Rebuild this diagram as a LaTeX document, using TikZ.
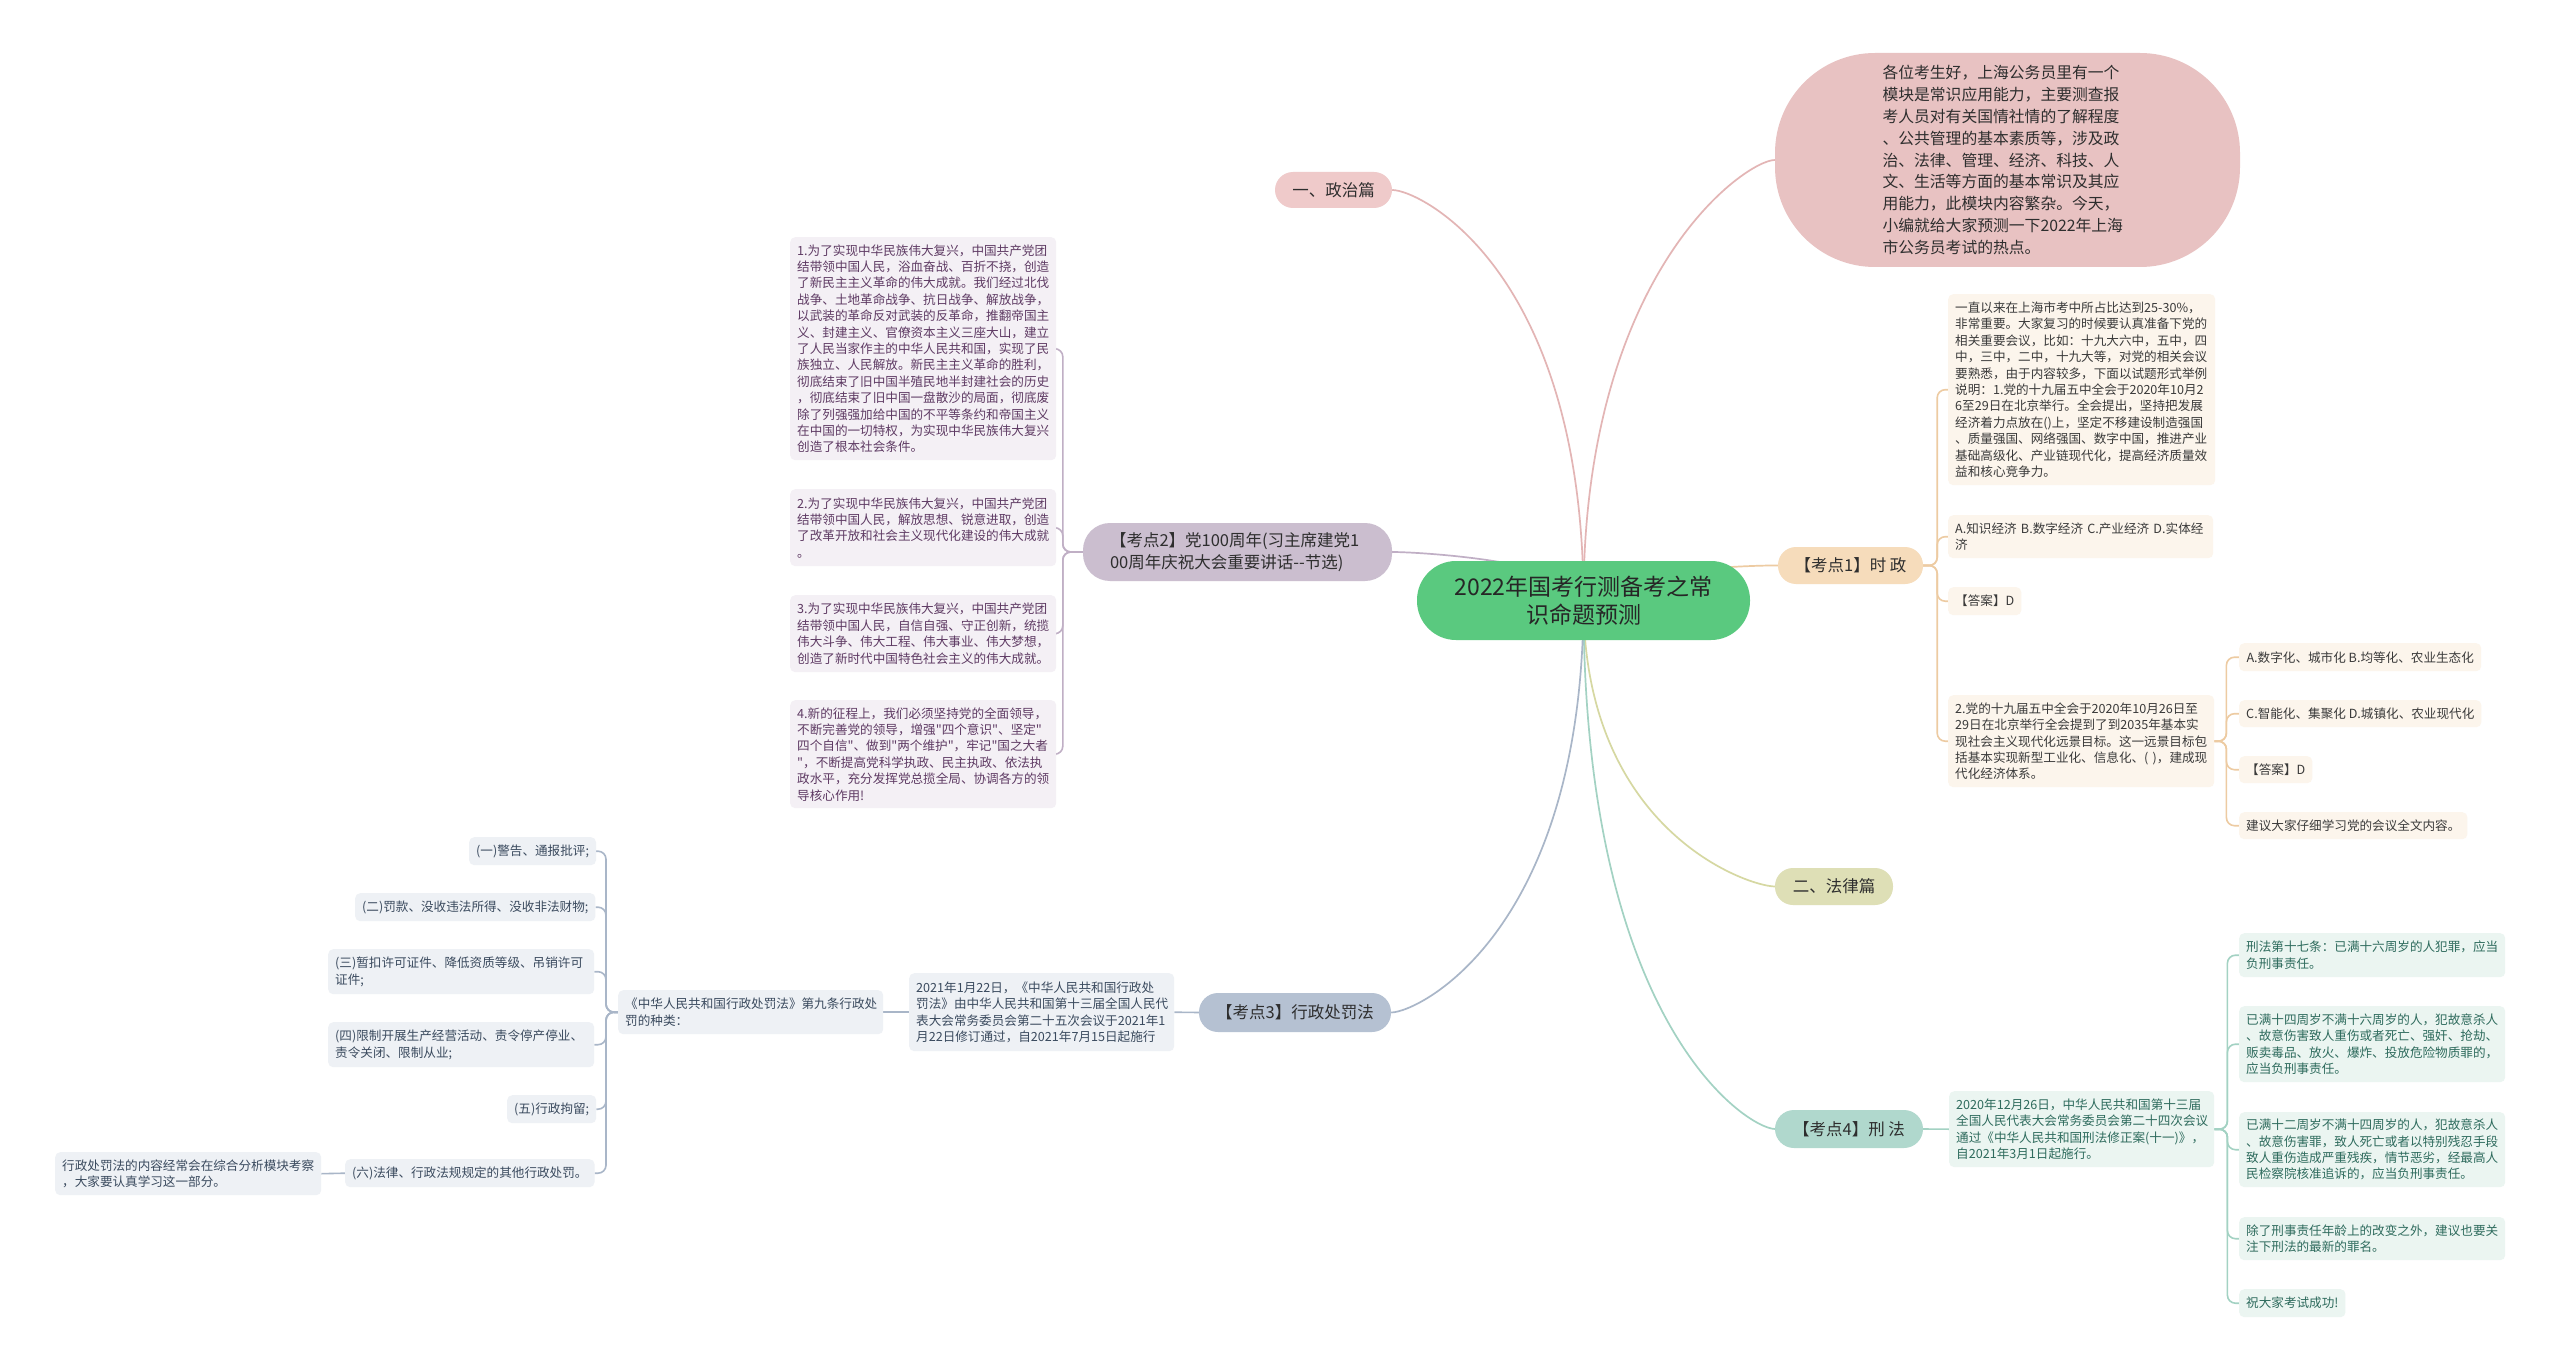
\documentclass[tikz,border=0pt]{standalone}
\usepackage{fontspec}
\setmainfont{Noto Sans CJK SC}[Ligatures=TeXOff]
\usetikzlibrary{backgrounds}
\definecolor{cgreen}{HTML}{5AC97F}
\definecolor{ppink}{HTML}{EFCACA}
\definecolor{ipink}{HTML}{E8C2C2}
\definecolor{kpeach}{HTML}{F6DCBB}
\definecolor{folive}{HTML}{DEDFB6}
\definecolor{kteal}{HTML}{B0D8CD}
\definecolor{kblue}{HTML}{B5C1D2}
\definecolor{kpurple}{HTML}{CBBECF}
\definecolor{lpink}{HTML}{E3B5B5}
\definecolor{lpeach}{HTML}{EDCBA2}
\definecolor{lolive}{HTML}{D6D8A2}
\definecolor{lteal}{HTML}{A3D2C3}
\definecolor{lblue}{HTML}{A9B6C8}
\definecolor{lpurple}{HTML}{C0AFC5}
\definecolor{bpeach}{HTML}{FCF5EC}
\definecolor{bpurple}{HTML}{F4F0F5}
\definecolor{bblue}{HTML}{EEF1F5}
\definecolor{bteal}{HTML}{EBF5F1}
\definecolor{tpeach}{HTML}{3A3A3A}
\definecolor{tpurple}{HTML}{5E3A63}
\definecolor{tblue}{HTML}{3A4A5E}
\definecolor{tteal}{HTML}{2E6B5D}
\definecolor{tmain}{HTML}{2E2E2E}
\newcommand\mybox[7]{%
 \pgfmathsetmacro\mbw{#5-#3}%
 \pgfmathsetmacro\mbh{#6-#4}%
 \pgfmathsetmacro\mbt{#5-#3-14}%
 \node[#1, minimum width=\mbw pt, minimum height=\mbh pt, text width=\mbt pt, anchor=north west] (#2) at (#3,#4) {#7};}
\newcommand\myboxc[7]{%
 \pgfmathsetmacro\mbw{#5-#3}%
 \pgfmathsetmacro\mbh{#6-#4}%
 \node[#1, minimum width=\mbw pt, minimum height=\mbh pt, align=center, anchor=north west] (#2) at (#3,#4) {#7};}
\tikzset{
 leaf/.style={rounded corners=5pt, inner xsep=7pt, inner ysep=4pt, align=left, font=\fontsize{12.6}{16.4}\selectfont},
 leafA/.style={leaf, fill=bpeach, text=tpeach},
 leafB/.style={leaf, fill=bpurple, text=tpurple},
 leafC/.style={leaf, fill=bblue, text=tblue},
 leafD/.style={leaf, fill=bteal, text=tteal},
 mainnode/.style={text=tmain, font=\fontsize{16.5}{21.7}\selectfont, inner sep=0pt},
 conn/.style={line width=1.7pt},
 sub/.style={line width=1.6pt, rounded corners=8pt},
}
\begin{document}
\begin{tikzpicture}[x=1pt,y=-1pt]
\useasboundingbox (0,0) rectangle (2560,1372);
% root
\node[fill=cgreen, rounded corners=39pt, minimum width=333pt, minimum height=79pt, align=center, text=black!85, font=\fontsize{23}{28}\selectfont] (root) at (1583.5,600.5) {2022年国考行测备考之常\\识命题预测};
% main branches
\node[mainnode, fill=ppink, rounded corners=18pt, minimum width=117pt, minimum height=36pt] (zz) at (1333.5,190) {一、政治篇};
\node[mainnode, fill=ipink, rounded corners=100pt, minimum width=465pt, minimum height=214pt, text width=250pt, align=left, font=\fontsize{15.8}{21.9}\selectfont] (intro) at (2007.5,160) {各位考生好，上海公务员里有一个\\模块是常识应用能力，主要测查报\\考人员对有关国情社情的了解程度\\、公共管理的基本素质等，涉及政\\治、法律、管理、经济、科技、人\\文、生活等方面的基本常识及其应\\用能力，此模块内容繁杂。今天，\\小编就给大家预测一下2022年上海\\市公务员考试的热点。};
\node[mainnode, fill=kpeach, rounded corners=18pt, minimum width=145pt, minimum height=37pt] (k1) at (1850.5,565.5) {【考点1】时 政};
\node[mainnode, fill=folive, rounded corners=18pt, minimum width=118pt, minimum height=37pt] (fl) at (1834,886.5) {二、法律篇};
\node[mainnode, fill=kteal, rounded corners=19pt, minimum width=148pt, minimum height=38pt] (k4) at (1849,1129) {【考点4】刑 法};
\node[mainnode, fill=kblue, rounded corners=19pt, minimum width=192pt, minimum height=39pt] (k3) at (1295,1012.5) {【考点3】行政处罚法};
\node[mainnode, fill=kpurple, rounded corners=27pt, minimum width=309pt, minimum height=58pt, text width=255pt, align=left] (k2) at (1237.5,552) {【考点2】党100周年(习主席建党1\\00周年庆祝大会重要讲话--节选)};
% kaodian 1 leaves
\mybox{leafA}{ka}{1948}{294}{2215}{485}{一直以来在上海市考中所占比达到25-30\%，\\非常重要。大家复习的时候要认真准备下党的\\相关重要会议，比如：十九大六中，五中，四\\中，三中，二中，十九大等，对党的相关会议\\要熟悉，由于内容较多，下面以试题形式举例\\说明：1.党的十九届五中全会于2020年10月2\\6至29日在北京举行。全会提出，坚持把发展\\经济着力点放在()上，坚定不移建设制造强国\\、质量强国、网络强国、数字中国，推进产业\\基础高级化、产业链现代化，提高经济质量效\\益和核心竞争力。}
\mybox{leafA}{kb}{1948}{515}{2213}{558}{A.知识经济 B.数字经济 C.产业经济 D.实体经\\济}
\myboxc{leafA}{kc}{1948}{587}{2021}{615}{【答案】D}
\mybox{leafA}{kd}{1948}{695}{2214}{787}{2.党的十九届五中全会于2020年10月26日至\\29日在北京举行全会提到了到2035年基本实\\现社会主义现代化远景目标。这一远景目标包\\括基本实现新型工业化、信息化、(~)，建成现\\代化经济体系。}
\myboxc{leafA}{ke}{2239}{643}{2481}{671}{A.数字化、城市化 B.均等化、农业生态化}
\myboxc{leafA}{kf}{2239}{700}{2481}{727}{C.智能化、集聚化 D.城镇化、农业现代化}
\myboxc{leafA}{kg}{2239}{756}{2311}{783}{【答案】D}
\myboxc{leafA}{kh}{2239}{812}{2467}{839}{建议大家仔细学习党的会议全文内容。}
% kaodian 4 leaves
\mybox{leafD}{xa}{1949}{1091}{2214}{1167}{2020年12月26日，中华人民共和国第十三届\\全国人民代表大会常务委员会第二十四次会议\\通过《中华人民共和国刑法修正案(十一)》，\\自2021年3月1日起施行。}
\mybox{leafD}{xb}{2239}{933}{2505}{977}{刑法第十七条：已满十六周岁的人犯罪，应当\\负刑事责任。}
\mybox{leafD}{xc}{2239}{1006}{2505}{1082}{已满十四周岁不满十六周岁的人，犯故意杀人\\、故意伤害致人重伤或者死亡、强奸、抢劫、\\贩卖毒品、放火、爆炸、投放危险物质罪的，\\应当负刑事责任。}
\mybox{leafD}{xd}{2239}{1112}{2505}{1187}{已满十二周岁不满十四周岁的人，犯故意杀人\\、故意伤害罪，致人死亡或者以特别残忍手段\\致人重伤造成严重残疾，情节恶劣，经最高人\\民检察院核准追诉的，应当负刑事责任。}
\mybox{leafD}{xe}{2239}{1217}{2505}{1260}{除了刑事责任年龄上的改变之外，建议也要关\\注下刑法的最新的罪名。}
\myboxc{leafD}{xf}{2239}{1289}{2343}{1317}{祝大家考试成功!}
% kaodian 2 leaves
\mybox{leafB}{pa}{790}{237}{1056}{460}{1.为了实现中华民族伟大复兴，中国共产党团\\结带领中国人民，浴血奋战、百折不挠，创造\\了新民主主义革命的伟大成就。我们经过北伐\\战争、土地革命战争、抗日战争、解放战争，\\以武装的革命反对武装的反革命，推翻帝国主\\义、封建主义、官僚资本主义三座大山，建立\\了人民当家作主的中华人民共和国，实现了民\\族独立、人民解放。新民主主义革命的胜利，\\彻底结束了旧中国半殖民地半封建社会的历史\\，彻底结束了旧中国一盘散沙的局面，彻底废\\除了列强强加给中国的不平等条约和帝国主义\\在中国的一切特权，为实现中华民族伟大复兴\\创造了根本社会条件。}
\mybox{leafB}{pb}{790}{489}{1056}{566}{2.为了实现中华民族伟大复兴，中国共产党团\\结带领中国人民，解放思想、锐意进取，创造\\了改革开放和社会主义现代化建设的伟大成就\\。}
\mybox{leafB}{pc}{790}{595}{1056}{672}{3.为了实现中华民族伟大复兴，中国共产党团\\结带领中国人民，自信自强、守正创新，统揽\\伟大斗争、伟大工程、伟大事业、伟大梦想，\\创造了新时代中国特色社会主义的伟大成就。}
\mybox{leafB}{pd}{790}{700}{1056}{808}{4.新的征程上，我们必须坚持党的全面领导，\\不断完善党的领导，增强"四个意识"、坚定"\\四个自信"、做到"两个维护"，牢记"国之大者\\"，不断提高党科学执政、民主执政、依法执\\政水平，充分发挥党总揽全局、协调各方的领\\导核心作用!}
% kaodian 3 leaves
\mybox{leafC}{ra}{909}{973}{1174}{1051}{2021年1月22日，《中华人民共和国行政处\\罚法》由中华人民共和国第十三届全国人民代\\表大会常务委员会第二十五次会议于2021年1\\月22日修订通过，自2021年7月15日起施行}
\mybox{leafC}{rb}{618}{990}{883}{1034}{《中华人民共和国行政处罚法》第九条行政处\\罚的种类：}
\myboxc{leafC}{s1}{469}{837}{594}{865}{(一)警告、通报批评;}
\myboxc{leafC}{s2}{355}{893}{594}{921}{(二)罚款、没收违法所得、没收非法财物;}
\mybox{leafC}{s3}{328}{949}{594}{994}{(三)暂扣许可证件、降低资质等级、吊销许可\\证件;}
\mybox{leafC}{s4}{328}{1022}{594}{1067}{(四)限制开展生产经营活动、责令停产停业、\\责令关闭、限制从业;}
\myboxc{leafC}{s5}{507}{1095}{594}{1123}{(五)行政拘留;}
\myboxc{leafC}{s6}{345}{1159}{594}{1187}{(六)法律、行政法规规定的其他行政处罚。}
\mybox{leafC}{s7}{55}{1152}{321}{1195}{行政处罚法的内容经常会在综合分析模块考察\\，大家要认真学习这一部分。}
% connectors
\begin{scope}[on background layer]
\fill[white] (0,0) rectangle (2560,1372);
\draw[conn, lpink] (root.center) .. controls (1583,272) and (1421,190) .. (zz.east);
\draw[conn, lpink] (root.center) .. controls (1583,272) and (1746,160) .. (intro.west);
\draw[conn, lpurple] (root.center) .. controls (1583,562) and (1421,552) .. (k2.east);
\draw[conn, lpeach] (root.center) .. controls (1583,572) and (1749,565) .. (k1.west);
\draw[conn, lolive] (root.center) .. controls (1583,829) and (1746,886) .. (fl.west);
\draw[conn, lteal] (root.center) .. controls (1583,1022) and (1746,1128) .. (k4.west);
\draw[conn, lblue] (root.center) .. controls (1583,930) and (1420,1012) .. (k3.east);
\foreach \c in {ka,kb,kc,kd} \draw[sub, lpeach] (k1.east) -- ++(14,0) |- (\c.west);
\foreach \c in {ke,kf,kg,kh} \draw[sub, lpeach] (kd.east) -- ++(12,0) |- (\c.west);
\draw[sub, lteal] (k4.east) -- (xa.west);
\foreach \c in {xb,xc,xd,xe,xf} \draw[sub, lteal] (xa.east) -- ++(13,0) |- (\c.west);
\foreach \c in {pa,pb,pc,pd} \draw[sub, lpurple] (k2.west) -- ++(-20,0) |- (\c.east);
\draw[sub, lblue] (k3.west) -- (ra.east);
\draw[sub, lblue] (ra.west) -- (rb.east);
\foreach \c in {s1,s2,s3,s4,s5,s6} \draw[sub, lblue] (rb.west) -- ++(-12,0) |- (\c.east);
\draw[sub, lblue] (s6.west) -- (s7.east);
\end{scope}
\end{tikzpicture}
\end{document}
